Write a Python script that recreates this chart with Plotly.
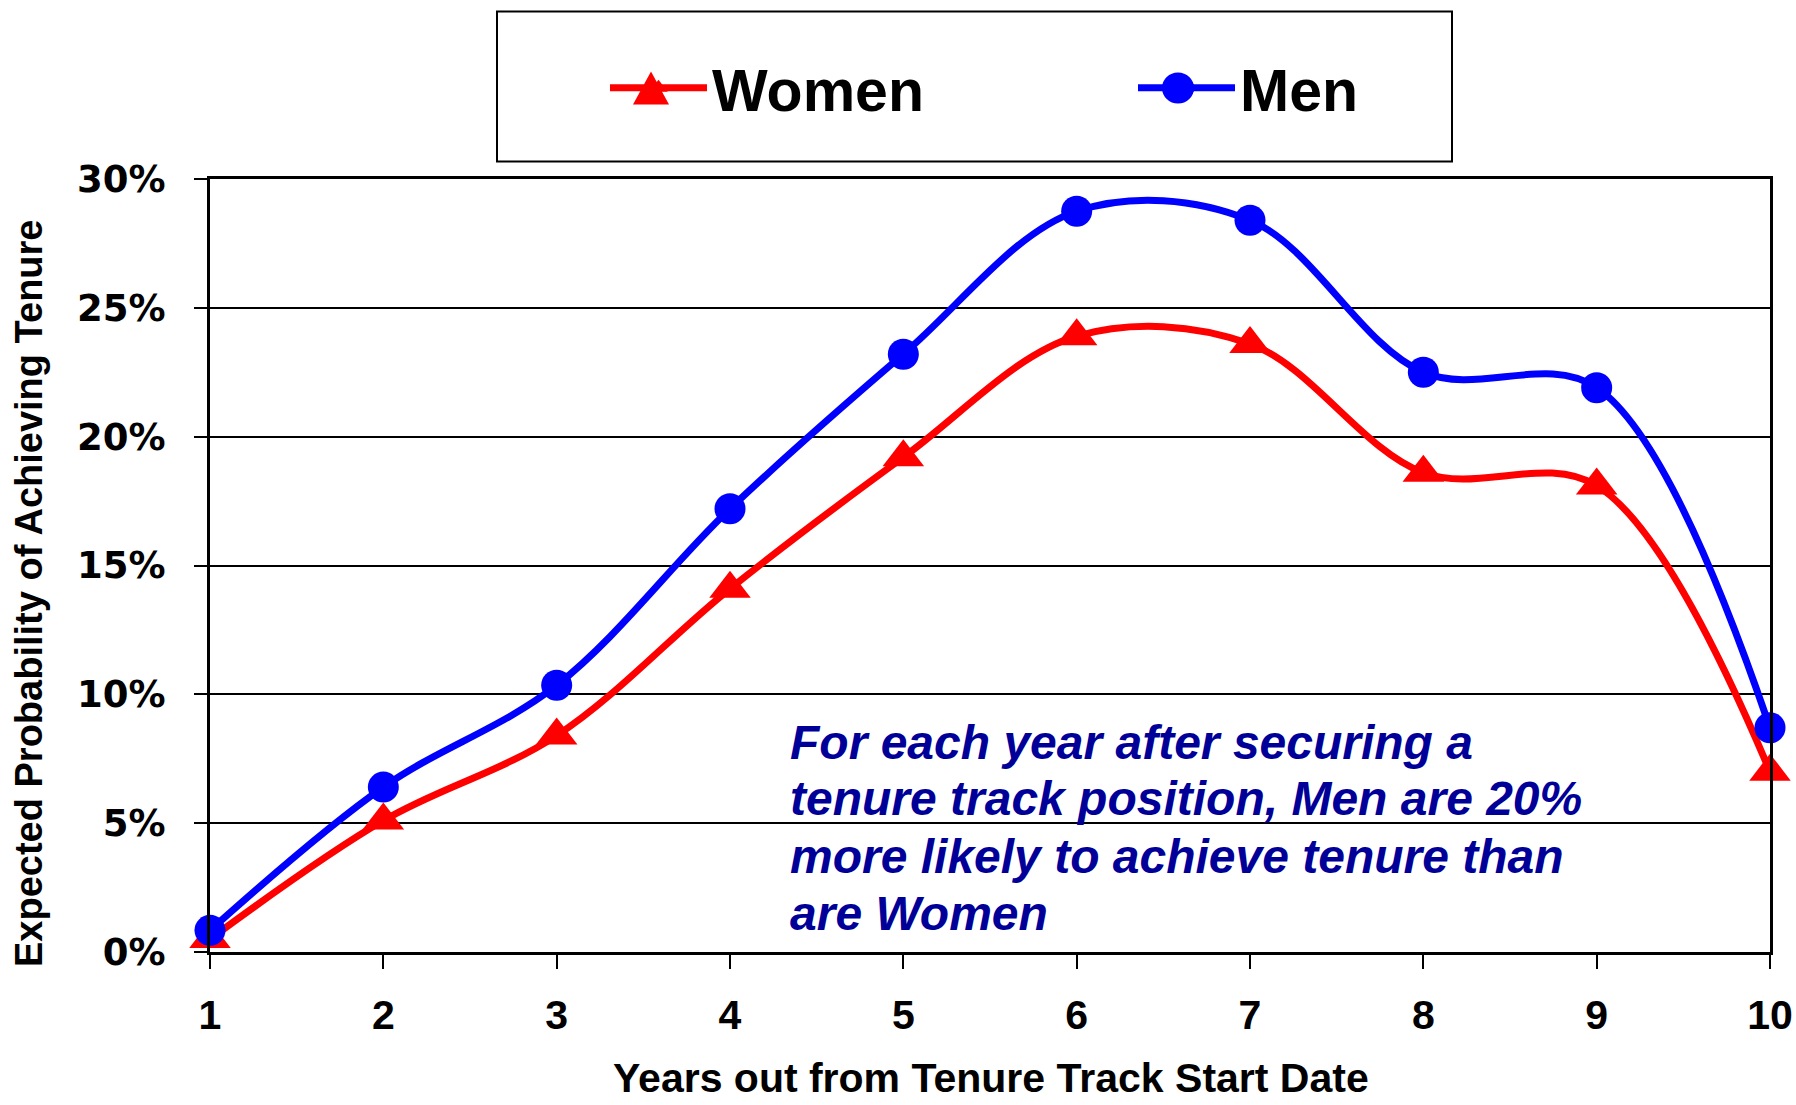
import plotly.graph_objects as go

years = [1, 2, 3, 4, 5, 6, 7, 8, 9, 10]
women = [0.005, 0.051, 0.084, 0.141, 0.192, 0.239, 0.236, 0.186, 0.181, 0.070]
men = [0.0084, 0.064, 0.1035, 0.172, 0.232, 0.2875, 0.284, 0.225, 0.219, 0.087]
series_names = ["Women", "Men"]
y_ticks = [0, 0.05, 0.10, 0.15, 0.20, 0.25, 0.30]
note_lines = ["For each year after securing a",
              "tenure track position, Men are 20%",
              "more likely to achieve tenure than",
              "are Women"]

W, H = 1796, 1105
L, R, T, B = 210, 26, 179, 153
pw, ph = W - L - R, H - T - B

def px_x(x):
    return (x - L) / pw

def px_y(y):
    return (H - B - y) / ph

fig = go.Figure()
fig.add_trace(go.Scatter(
    x=years, y=women, name=series_names[0], mode="lines+markers", legend="legend",
    line=dict(color="#FF0000", width=7, shape="spline", smoothing=1),
    marker=dict(symbol="triangle-up", size=36, color="#FF0000"),
    cliponaxis=False))
fig.add_trace(go.Scatter(
    x=years, y=men, name=series_names[1], mode="lines+markers", legend="legend2",
    line=dict(color="#0000FF", width=7, shape="spline", smoothing=1),
    marker=dict(symbol="circle", size=31, color="#0000FF"),
    cliponaxis=False))

legend_font = dict(family="Liberation Sans", size=59, color="black", weight="bold")
legend_common = dict(xanchor="left", yanchor="middle", font=legend_font, itemwidth=97,
                     bgcolor="rgba(0,0,0,0)", borderwidth=0, tracegroupgap=0)

note_y = [742, 798, 856, 913]
annotations = [
    dict(text="Expected Probability of Achieving Tenure", xref="paper", yref="paper",
         x=px_x(29), y=px_y(594), textangle=-90, showarrow=False,
         xanchor="center", yanchor="middle",
         font=dict(family="Liberation Sans", size=38, color="black", weight="bold")),
    dict(text="Years out from Tenure Track Start Date", xref="paper", yref="paper",
         x=px_x(991), y=px_y(1078), showarrow=False, xanchor="center", yanchor="middle",
         font=dict(family="Liberation Sans", size=41, color="black", weight="bold")),
]
for line, yy in zip(note_lines, note_y):
    annotations.append(dict(
        text=line, xref="paper", yref="paper", x=px_x(788), y=px_y(yy),
        showarrow=False, xanchor="left", yanchor="middle", align="left",
        font=dict(family="Liberation Sans", size=48, color="#000099", weight="bold",
                  style="italic")))

# legend box and large legend symbols (decoration)
shapes = [
    dict(type="rect", xref="paper", yref="paper",
         x0=px_x(497), x1=px_x(1452), y0=px_y(161.5), y1=px_y(11.5),
         line=dict(color="black", width=2), fillcolor="rgba(0,0,0,0)"),
    dict(type="path", xref="paper", yref="paper", xsizemode="pixel", ysizemode="pixel",
         xanchor=px_x(651), yanchor=px_y(88),
         path="M -18,-16.5 L 18,-16.5 L 0,16.5 Z",
         fillcolor="#FF0000", line=dict(width=0)),
    dict(type="circle", xref="paper", yref="paper", xsizemode="pixel", ysizemode="pixel",
         xanchor=px_x(1178), yanchor=px_y(88), x0=-16, x1=16, y0=-15.5, y1=15.5,
         fillcolor="#0000FF", line=dict(width=0)),
]

fig.update_layout(
    width=W, height=H,
    margin=dict(l=L, r=R, t=T, b=B, autoexpand=False),
    paper_bgcolor="white", plot_bgcolor="white",
    showlegend=True,
    legend=dict(x=px_x(605), y=px_y(88), **legend_common),
    legend2=dict(x=px_x(1133), y=px_y(88), **legend_common),
    xaxis=dict(range=[1, 10], tickmode="array", tickvals=years,
               ticks="outside", ticklen=14, tickwidth=2, tickcolor="black",
               showline=True, linecolor="black", linewidth=3, mirror=True,
               showgrid=False, zeroline=False, ticklabelstandoff=11, automargin=False,
               tickfont=dict(family="Liberation Sans", size=41, color="black", weight="bold")),
    yaxis=dict(range=[0, 0.30], tickmode="array", tickvals=y_ticks, tickformat=".0%",
               ticks="outside", ticklen=13, tickwidth=2, tickcolor="black",
               showline=True, linecolor="black", linewidth=3, mirror=True,
               showgrid=True, gridcolor="black", gridwidth=2, zeroline=False,
               ticklabelstandoff=21, automargin=False,
               tickfont=dict(family="DejaVu Sans", size=37, color="black", weight="bold")),
    shapes=shapes,
    annotations=annotations,
)

fig.write_html("out.html", config={"displayModeBar": False},
               post_script="document.body.style.margin='0px';")
